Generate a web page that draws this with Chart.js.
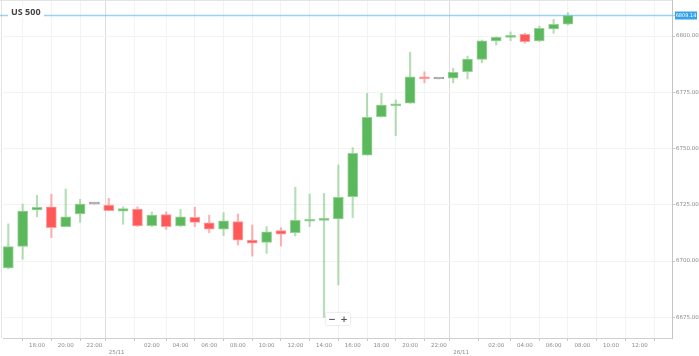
<!DOCTYPE html>
<html>
<head>
<meta charset="utf-8">
<script src="https://cdn.jsdelivr.net/npm/chart.js@4.4.1/dist/chart.umd.min.js"></script>
<style>
  html, body { margin: 0; padding: 0; background: #fff; }
  #wrap { position: relative; width: 699px; height: 356px; overflow: hidden; }
  canvas { display: block; }
  #title { position: absolute; left: 8px; top: 6px; padding: 0 3px; background: #fff;
    font: bold 9px "Open Sans", "DejaVu Sans", sans-serif; color: #444; line-height: 12px; }
  #zoom { position: absolute; left: 326px; top: 313px; width: 24px; height: 12px; background: #fff;
    box-shadow: 0 0 2px rgba(0,0,0,0.25); border-radius: 1px; display: flex;
    font: bold 9px "DejaVu Sans", sans-serif; color: #555; line-height: 12px; }
  #zoom span { flex: 1; text-align: center; }
</style>
</head>
<body>
<div id="wrap">
  <canvas id="c" width="699" height="356"></canvas>
  <div id="title">US 500</div>
  <div id="zoom"><span>−</span><span>+</span></div>
</div>
<script>
// Hourly candles starting 24/11 16:00 (index 0) to 26/11 07:00 (index 39)
const opens  = [6696.9,6706.5,6722.7,6724.1,6715.3,6720.9,6725.3,6724.9,6722.2,6723.1,
                6715.7,6720.6,6715.6,6719.4,6717.0,6714.2,6717.5,6709.3,6708.3,6713.5,
                6712.6,6717.7,6718.1,6718.7,6728.6,6747.1,6764.1,6769.0,6770.1,6781.3,
                6780.9,6781.3,6784.1,6789.6,6797.8,6799.4,6800.8,6797.8,6803.1,6805.3];
const highs  = [6716.5,6725.3,6729.2,6729.7,6732.0,6727.4,6725.3,6727.9,6724.1,6724.1,
                6721.8,6721.9,6723.0,6723.9,6720.4,6721.5,6720.9,6716.0,6715.3,6714.8,
                6732.8,6729.8,6730.1,6742.7,6750.4,6774.5,6774.5,6771.6,6792.8,6784.1,
                6780.9,6785.6,6791.1,6798.2,6799.7,6801.8,6801.2,6804.4,6807.4,6810.4];
const lows   = [6696.5,6700.8,6719.7,6710.4,6715.3,6717.2,6725.3,6722.3,6716.3,6715.3,
                6715.3,6714.1,6715.3,6715.3,6712.6,6711.3,6707.1,6702.2,6703.4,6706.7,
                6711.1,6715.3,6675.0,6689.4,6719.3,6747.1,6763.9,6755.7,6770.1,6779.2,
                6780.9,6779.2,6780.9,6788.1,6796.0,6797.9,6796.8,6797.5,6801.2,6804.9];
const closes = [6706.4,6722.2,6723.9,6714.8,6719.7,6725.3,6725.3,6722.4,6723.3,6715.6,
                6720.4,6715.3,6719.7,6717.2,6714.2,6717.9,6709.3,6707.9,6713.0,6711.9,
                6718.1,6718.2,6718.7,6728.3,6747.9,6763.9,6769.3,6769.8,6781.9,6781.0,
                6780.9,6783.9,6789.8,6797.9,6799.4,6800.3,6797.5,6803.4,6805.2,6809.14];
const startHour = 16;
const yTicks = [6675, 6700, 6725, 6750, 6775, 6800];
const timeTicks = [2,4,6,10,12,14,16,18,20,22,24,26,28,30,34,36,38,40,42,44];
const dateTicks = [7.55, 31.55];
const dateLabels = ['25/11', '26/11'];
const currentPrice = 6809.14;

const GREEN = 'rgb(92,184,92)', GREEN_B = 'rgb(150,210,150)', GREEN_W = 'rgba(92,184,92,0.45)';
const RED = 'rgb(255,88,88)', RED_B = 'rgb(255,160,160)', RED_W = 'rgba(255,88,88,0.45)';
const GRAY = 'rgb(160,160,160)';

function dir(i) { return closes[i] > opens[i] ? 1 : (closes[i] < opens[i] ? -1 : 0); }

const bodies = opens.map((o, i) => ({ x: i, y: [o, closes[i]] }));
const wicks = opens.map((o, i) => ({ x: i, y: [lows[i], highs[i]] }));

const pad2 = n => (n < 10 ? '0' : '') + n;

const overlay = {
  id: 'overlay',
  beforeDatasetsDraw(chart) {
    const { ctx, chartArea: a } = chart;
    ctx.save();
    ctx.strokeStyle = '#e4e4e4';
    ctx.lineWidth = 1;
    ctx.beginPath();
    ctx.moveTo(1.5, 0); ctx.lineTo(1.5, a.bottom);
    ctx.moveTo(0, 0.5); ctx.lineTo(a.right, 0.5);
    ctx.stroke();
    ctx.restore();
  },
  afterDraw(chart) {
    const { ctx, chartArea: a, scales: { y } } = chart;
    const py = Math.round(y.getPixelForValue(currentPrice)) + 0.5;
    ctx.save();
    ctx.strokeStyle = 'rgba(120,195,240,0.75)';
    ctx.lineWidth = 1.5;
    ctx.beginPath(); ctx.moveTo(0, py); ctx.lineTo(a.right + 3, py); ctx.stroke();
    ctx.fillStyle = '#36a2eb';
    ctx.fillRect(a.right + 3, py - 4, 22, 8);
    ctx.fillStyle = '#fff';
    ctx.font = '5px "DejaVu Sans", sans-serif';
    ctx.textBaseline = 'middle';
    ctx.textAlign = 'center';
    ctx.fillText(currentPrice.toFixed(2), a.right + 14, py + 0.5);
    ctx.restore();
  }
};

new Chart(document.getElementById('c'), {
  type: 'bar',
  data: {
    datasets: [
      {
        label: 'body', data: bodies, order: 0, grouped: false,
        barThickness: 10, minBarLength: 2, borderWidth: 1, borderSkipped: false,
        backgroundColor: c => { const d = dir(c.dataIndex); return d > 0 ? GREEN : d < 0 ? RED : GRAY; },
        borderColor: c => { const d = dir(c.dataIndex); return d > 0 ? GREEN_B : d < 0 ? RED_B : GRAY; }
      },
      {
        label: 'wick', data: wicks, order: 1, grouped: false,
        barThickness: 1.5, borderWidth: 0,
        backgroundColor: c => { const d = dir(c.dataIndex); return d > 0 ? GREEN_W : d < 0 ? RED_W : 'rgba(160,160,160,0.5)'; }
      }
    ]
  },
  options: {
    responsive: false, animation: false,
    layout: { padding: { left: 3, top: 0, right: 0, bottom: 0 } },
    plugins: { legend: { display: false }, tooltip: { enabled: false } },
    scales: {
      x: {
        type: 'linear', min: -0.37, max: 46.25, offset: false,
        afterBuildTicks: s => { s.ticks = timeTicks.concat(dateTicks).sort((a, b) => a - b).map(v => ({ value: v })); },
        afterFit: s => { s.height = 18; s.paddingLeft = 0; s.paddingRight = 0; },
        ticks: {
          autoSkip: false, maxRotation: 0, padding: 1, color: '#8a8a8a',
          font: { size: 5.5, family: '"DejaVu Sans", sans-serif', lineHeight: 1.25 },
          callback: v => {
            const di = dateTicks.indexOf(v);
            if (di >= 0) return ['', dateLabels[di]];
            return pad2((startHour + v) % 24) + ':00';
          }
        },
        grid: {
          color: c => (c.tick && dateTicks.includes(c.tick.value)) ? '#dddddd' : '#f3f3f3',
          tickColor: '#c8c8c8', tickLength: 3, lineWidth: 1
        },
        border: { display: true, color: '#cfcfcf', width: 1 }
      },
      y: {
        position: 'right', min: 6665.8, max: 6816.0,
        afterBuildTicks: s => { s.ticks = yTicks.map(v => ({ value: v })); },
        afterFit: s => { s.width = 27; s.paddingTop = 0; s.paddingBottom = 0; },
        ticks: {
          padding: 1, color: '#8a8a8a',
          font: { size: 5.5, family: '"DejaVu Sans", sans-serif' },
          callback: v => Number(v).toFixed(2)
        },
        grid: { color: '#f3f3f3', tickColor: '#c8c8c8', tickLength: 3 },
        border: { display: true, color: '#c4c4c4', width: 1 }
      }
    }
  },
  plugins: [overlay]
});
</script>
</body>
</html>
